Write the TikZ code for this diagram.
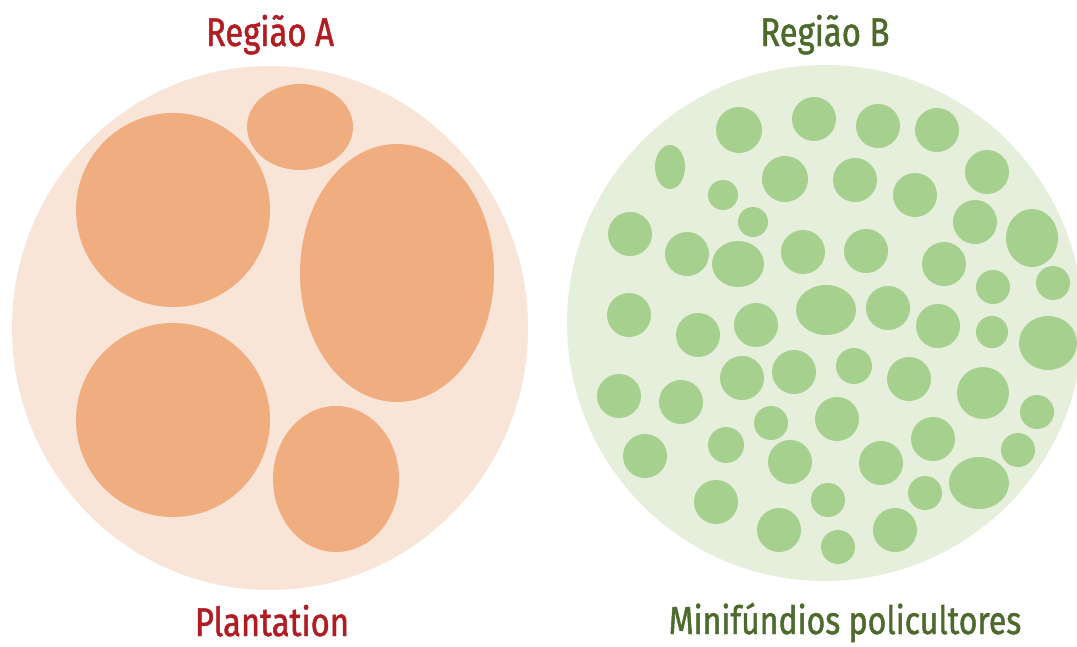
\documentclass[tikz,border=0pt]{standalone}
\usepackage{fontspec}
\newfontfamily\lblfont[FakeStretch=0.82,FakeBold=1.2]{Fira Sans}
\definecolor{peachbg}{HTML}{F9E4D8}
\definecolor{orangeblob}{HTML}{F0AD80}
\definecolor{greenbg}{HTML}{E6EFDC}
\definecolor{greendot}{HTML}{A6D08E}
\definecolor{redtxt}{HTML}{B01C22}
\definecolor{greentxt}{HTML}{4B6A2C}
\tikzset{
  lbl/.style={font=\lblfont\fontsize{40}{44}\selectfont, inner sep=0pt, anchor=base},
}
\begin{document}
\begin{tikzpicture}[x=1pt,y=-1pt]
\useasboundingbox (0,0) rectangle (1077,646);
% Left region
\fill[peachbg] (270,328) ellipse [x radius=258, y radius=262];
\begin{scope}[orangeblob]
\fill (173,210) ellipse [x radius=97, y radius=97];
\fill (300,127) ellipse [x radius=53, y radius=43];
\fill (397,273) ellipse [x radius=97, y radius=129];
\fill (173,420) ellipse [x radius=97, y radius=97];
\fill (336,479) ellipse [x radius=63, y radius=73];
\end{scope}
% Right region
\fill[greenbg] (825,323) circle [radius=258];
\begin{scope}[greendot]
\fill (670,167) ellipse [x radius=15, y radius=22];
\foreach \x/\y/\r in {739/130/23, 814/119/22, 878/126/22, 937/130/22,
  723/195/15, 785/179/23, 855/180/22, 915/195/22, 987/172/22,
  753/222/15, 630/234/22, 687/254/22, 803/252/22, 866/251/22,
  975/222/22, 944/264/22, 993/287/17, 1053/283/17,
  629/315/22, 698/335/22, 756/325/22, 888/308/22, 938/326/22, 992/332/16,
  619/396/22, 681/402/22, 742/378/22, 794/372/22, 854/366/18, 909/379/22,
  983/393/26, 1037/412/17,
  645/456/22, 726/445/18, 771/423/17, 837/419/22, 933/439/22, 1018/450/17,
  790/462/22, 881/463/22,
  716/502/22, 828/500/17, 925/493/17,
  779/530/22, 838/547/17, 895/530/22}
  \fill (\x,\y) circle [radius=\r];
\fill (738,264) ellipse [x radius=26, y radius=23];
\fill (1032,238) ellipse [x radius=26, y radius=29];
\fill (826,310) ellipse [x radius=30, y radius=25];
\fill (1048,343) ellipse [x radius=29, y radius=27];
\fill (979,483) ellipse [x radius=30, y radius=26];
\end{scope}
% Labels
\node[lbl, text=redtxt] (titleA) at (270,46) {Região A};
\node[lbl, text=greentxt] (titleB) at (825,46) {Região B};
\node[lbl, text=redtxt] (capA) at (272,636) {Plantation};
\node[lbl, text=greentxt, font=\lblfont\fontsize{39}{43}\selectfont] (capB) at (845,634) {Minifúndios policultores};
\end{tikzpicture}
\end{document}
